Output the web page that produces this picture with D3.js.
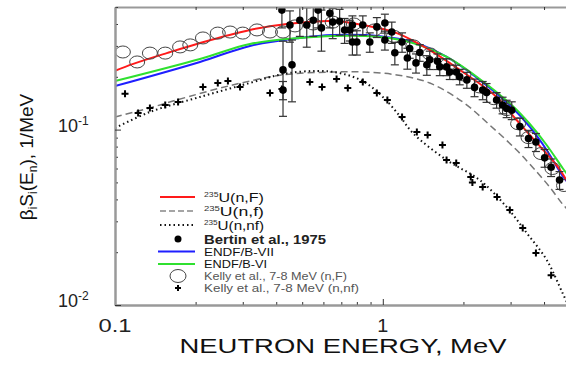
<!DOCTYPE html>
<html>
<head>
<meta charset="utf-8">
<script src="https://cdn.jsdelivr.net/npm/d3@7"></script>
<style>
  body { margin: 0; background: #fff; }
  svg { display: block; font-family: "Liberation Sans", Arial, sans-serif; }
</style>
</head>
<body>
<svg id="chart" width="566" height="365"></svg>
<script>
// ---- data (energy in MeV, spectrum in 1/MeV) ----
const totalE   = [0.1, 0.117, 0.156, 0.208, 0.319, 0.438, 0.651, 0.842, 1.128, 1.497, 1.99, 2.66, 3.16, 3.76, 4.46, 5.0];
const totalF   = [0.2165, 0.237, 0.273, 0.312, 0.37, 0.40, 0.416, 0.395, 0.355, 0.284, 0.213, 0.1535, 0.1134, 0.084, 0.0625, 0.0477];

const endfE    = [0.1, 0.2076, 0.319, 0.49, 0.651, 0.975, 1.294, 1.733, 2.30, 3.055, 3.54, 4.09, 4.69, 5.0];
const endf7    = [0.177, 0.243, 0.300, 0.333, 0.346, 0.341, 0.316, 0.2594, 0.192, 0.1328, 0.1035, 0.0765, 0.0545, 0.0483];
const endf6    = [0.189, 0.2526, 0.3076, 0.333, 0.342, 0.337, 0.312, 0.2594, 0.1944, 0.1363, 0.1076, 0.0817, 0.0604, 0.053];

const firstE   = [0.1, 0.135, 0.17, 0.275, 0.424, 0.651, 0.842, 1.128, 1.497, 1.99, 2.506, 3.16, 3.76, 4.2, 4.69, 5.0];
const firstF   = [0.118, 0.133, 0.1475, 0.1796, 0.205, 0.213, 0.213, 0.205, 0.1844, 0.1437, 0.1062, 0.0765, 0.0573, 0.047, 0.0376, 0.034];

const nnfE     = [0.1, 0.135, 0.2076, 0.319, 0.424, 0.567, 0.691, 0.842, 1.0, 1.157, 1.294, 1.733, 2.30, 2.90, 3.45, 4.09, 4.69, 5.0];
const nnfF     = [0.102, 0.126, 0.1535, 0.1844, 0.2075, 0.216, 0.210, 0.189, 0.1535, 0.1195, 0.0956, 0.067, 0.0516, 0.0362, 0.0257, 0.0181, 0.0117, 0.0095];

const bertinE  = [0.424, 0.424, 0.458, 0.42, 0.45, 0.49, 0.52, 0.55, 0.573, 0.59, 0.634, 0.65, 0.69, 0.72, 0.753, 0.77, 0.77, 0.80,
                  0.842, 0.894, 0.95, 1.018, 1.018, 1.08, 1.109, 1.18, 1.235, 1.26, 1.33, 1.374, 1.46, 1.497, 1.6, 1.632,
                  1.73, 1.778, 1.88, 1.937, 2.06, 2.2, 2.36, 2.44, 2.66, 2.8, 2.9, 3.03, 3.25, 3.5, 3.73, 4.02, 4.25, 4.57];
const bertinF  = [0.219, 0.168, 0.234, 0.48, 0.395, 0.42, 0.395, 0.42, 0.48, 0.38, 0.46, 0.41, 0.415, 0.37, 0.37, 0.395, 0.316, 0.316,
                  0.395, 0.316, 0.385, 0.324, 0.405, 0.36, 0.274, 0.316, 0.256, 0.29, 0.24, 0.275, 0.234, 0.25, 0.245, 0.228,
                  0.228, 0.213, 0.213, 0.2, 0.192, 0.174, 0.168, 0.163, 0.1475, 0.138, 0.132, 0.129, 0.104, 0.089, 0.085, 0.069, 0.061, 0.0516];
const bertinErr = [0.10, 0.02, 0.09, 0.1, 0.08, 0.08, 0.1, 0.08, 0.1, 0.1, 0.08, 0.08, 0.07, 0.06, 0.05, 0.05, 0.05, 0.05,
                   0.05, 0.04, 0.05, 0.04, 0.05, 0.05, 0.04, 0.04, 0.035, 0.035, 0.03, 0.03, 0.03, 0.03, 0.025, 0.025,
                   0.025, 0.02, 0.02, 0.02, 0.02, 0.02, 0.02, 0.02, 0.015, 0.015, 0.015, 0.015, 0.012, 0.01, 0.01, 0.008, 0.007, 0.006];

const kellyFE  = [0.107, 0.121, 0.135, 0.154, 0.175, 0.191, 0.213, 0.242, 0.269, 0.30, 0.339, 0.379, 0.424, 0.47, 0.55, 0.65, 0.78, 0.93,
                  1.1, 1.3, 1.5, 1.75, 2.0, 2.3, 2.6, 2.9, 3.2, 3.5, 3.9, 4.3, 4.75];
const kellyF   = [0.277, 0.243, 0.273, 0.273, 0.296, 0.304, 0.333, 0.355, 0.36, 0.355, 0.37, 0.36, 0.36, 0.39, 0.40, 0.41, 0.40, 0.37,
                  0.34, 0.30, 0.27, 0.235, 0.205, 0.175, 0.15, 0.13, 0.108, 0.09, 0.073, 0.06, 0.048];

const kellyNE  = [0.109, 0.122, 0.135, 0.154, 0.172, 0.213, 0.242, 0.264, 0.293, 0.379, 0.42, 0.534, 0.593, 0.672, 0.74, 0.842,
                  0.95, 1.04, 1.18, 1.34, 1.47, 1.67, 1.73, 1.88, 2.13, 2.16, 2.36, 2.67, 2.98, 3.33, 3.73, 4.25];
const kellyN   = [0.160, 0.1243, 0.133, 0.138, 0.1437, 0.175, 0.1844, 0.189, 0.175, 0.1617, 0.1704, 0.1868, 0.175, 0.1944, 0.1727, 0.1868,
                  0.1617, 0.1475, 0.118, 0.0969, 0.0932, 0.0817, 0.0671, 0.0645, 0.0537, 0.05, 0.047, 0.0413, 0.0348, 0.0275, 0.0198, 0.0148];

const xMajor = [0.1, 1];
const xMinor = [0.2, 0.3, 0.4, 0.5, 0.6, 0.7, 0.8, 0.9, 2, 3, 4, 5];
const xTickLabels = ["0.1", "1"];
const yMajor = [0.01, 0.1];
const yMinor = [0.02, 0.03, 0.04, 0.05, 0.06, 0.07, 0.08, 0.09, 0.2, 0.3, 0.4, 0.5];
const yTickExp = ["-2", "-1"];

// ---- layout ----
const svg = d3.select("#chart");
const L = 115, R = 570, T = 7, B = 305;

const x = d3.scaleLog().domain([0.1, 5]).range([L, R]);
const y = d3.scaleLog().domain([0.01, 0.5]).range([B, T]);

svg.append("clipPath").attr("id", "plotclip")
  .append("rect").attr("x", L).attr("y", T).attr("width", R - L).attr("height", B - T);

const plot = svg.append("g").attr("clip-path", "url(#plotclip)");

const line = d3.line()
  .x(d => x(d[0]))
  .y(d => y(d[1]))
  .curve(d3.curveCatmullRom.alpha(0.5));

const zip = (a, b) => a.map((v, i) => [v, b[i]]);

// curves
plot.append("path").datum(zip(firstE, firstF))
  .attr("d", line).attr("fill", "none")
  .attr("stroke", "#777").attr("stroke-width", 1.5).attr("stroke-dasharray", "7,4");

plot.append("path").datum(zip(nnfE, nnfF))
  .attr("d", line).attr("fill", "none")
  .attr("stroke", "#111").attr("stroke-width", 2).attr("stroke-dasharray", "1.5,3");

plot.append("path").datum(zip(endfE, endf7))
  .attr("d", line).attr("fill", "none").attr("stroke", "#1f1fff").attr("stroke-width", 2);

plot.append("path").datum(zip(endfE, endf6))
  .attr("d", line).attr("fill", "none").attr("stroke", "#2fe02f").attr("stroke-width", 2);

plot.append("path").datum(zip(totalE, totalF))
  .attr("d", line).attr("fill", "none").attr("stroke", "#ff1a1a").attr("stroke-width", 2);

// Kelly (n,F) open circles
plot.selectAll(".kf").data(zip(kellyFE, kellyF)).enter()
  .append("ellipse")
  .attr("cx", d => x(d[0])).attr("cy", d => y(d[1]))
  .attr("rx", 7.5).attr("ry", 6)
  .attr("fill", "none").attr("stroke", "#444").attr("stroke-width", 1);

// Kelly (n,nf) crosses
plot.selectAll(".kn").data(zip(kellyNE, kellyN)).enter()
  .append("path")
  .attr("transform", d => `translate(${x(d[0])},${y(d[1])})`)
  .attr("d", "M-3.5,0H3.5M0,-3.5V3.5")
  .attr("stroke", "#000").attr("stroke-width", 2);

// Bertin points with error bars
const bertin = bertinE.map((e, i) => ({ e: e, v: bertinF[i], err: bertinErr[i] }));
const lowEnd = d => y(Math.max(d.v - d.err, 0.011));
const eb = plot.selectAll(".eb").data(bertin).enter().append("g")
  .attr("stroke", "#333").attr("stroke-width", 1.2);
eb.append("line")
  .attr("x1", d => x(d.e)).attr("x2", d => x(d.e))
  .attr("y1", d => y(d.v + d.err)).attr("y2", lowEnd);
eb.append("line")
  .attr("x1", d => x(d.e) - 4).attr("x2", d => x(d.e) + 4)
  .attr("y1", d => y(d.v + d.err)).attr("y2", d => y(d.v + d.err));
eb.append("line")
  .attr("x1", d => x(d.e) - 4).attr("x2", d => x(d.e) + 4)
  .attr("y1", lowEnd).attr("y2", lowEnd);
plot.selectAll(".bd").data(bertin).enter()
  .append("circle")
  .attr("cx", d => x(d.e)).attr("cy", d => y(d.v)).attr("r", 3.8)
  .attr("fill", "#000");

// ---- axes ----
function styleAxis(g) {
  g.select(".domain").attr("stroke", "#999").attr("stroke-width", 2);
  g.selectAll(".tick line").attr("stroke", "#333").attr("stroke-width", 1);
}
svg.append("g").attr("transform", `translate(0,${B})`)
  .call(d3.axisBottom(x).tickValues(xMinor).tickSize(-3).tickSizeOuter(0).tickFormat(""))
  .call(styleAxis);
svg.append("g").attr("transform", `translate(0,${B})`)
  .call(d3.axisBottom(x).tickValues(xMajor).tickSize(-6).tickSizeOuter(0).tickFormat(""))
  .call(styleAxis);
svg.append("g").attr("transform", `translate(0,${T})`)
  .call(d3.axisTop(x).tickValues(xMinor.concat(xMajor)).tickSize(-3).tickSizeOuter(0).tickFormat(""))
  .call(styleAxis);
svg.append("g").attr("transform", `translate(${L},0)`)
  .call(d3.axisLeft(y).tickValues(yMinor).tickSize(-3).tickSizeOuter(0).tickFormat(""))
  .call(styleAxis);
svg.append("g").attr("transform", `translate(${L},0)`)
  .call(d3.axisLeft(y).tickValues(yMajor).tickSize(-6).tickSizeOuter(0).tickFormat(""))
  .call(styleAxis);

// x tick labels
svg.selectAll(".xl").data(xMajor).enter().append("text")
  .attr("x", d => x(d)).attr("y", 332)
  .attr("text-anchor", "middle").attr("font-size", 19).attr("fill", "#222")
  .attr("textLength", (d, i) => xTickLabels[i].length > 1 ? 33 : 11)
  .attr("lengthAdjust", "spacingAndGlyphs")
  .text((d, i) => xTickLabels[i]);

// y tick labels 10^n
const yl = svg.selectAll(".yl").data(yMajor).enter().append("text")
  .attr("x", 58).attr("y", d => y(d) + 2)
  .attr("font-size", 18).attr("fill", "#222");
yl.append("tspan").text("10");
yl.append("tspan").attr("font-size", 12).attr("dy", -7).text((d, i) => yTickExp[i]);

// axis titles
svg.append("text")
  .attr("x", 343).attr("y", 353).attr("text-anchor", "middle")
  .attr("font-size", 21).attr("fill", "#111")
  .attr("textLength", 327).attr("lengthAdjust", "spacingAndGlyphs")
  .text("NEUTRON ENERGY, MeV");

const yt = svg.append("text")
  .attr("transform", "translate(33,157) rotate(-90)")
  .attr("text-anchor", "middle").attr("font-size", 19).attr("fill", "#111");
yt.append("tspan").text("β");
yt.append("tspan").attr("font-size", 12).attr("dy", 4).text("i");
yt.append("tspan").attr("dy", -4).text("S");
yt.append("tspan").attr("font-size", 12).attr("dy", 4).text("i");
yt.append("tspan").attr("dy", -4).text("(E");
yt.append("tspan").attr("font-size", 12).attr("dy", 4).text("n");
yt.append("tspan").attr("dy", -4).text("), 1/MeV");

// ---- legend ----
const legendRows = [197, 211, 225, 239, 251.5, 264, 276, 288];
const lg = svg.append("g");
const lx1 = 160, lx2 = 195, mx = 178, tx = 204;

function isoLabel(row, text) {
  const t = lg.append("text").attr("x", tx).attr("y", legendRows[row] + 5)
    .attr("font-size", 13).attr("fill", "#111")
    .attr("textLength", 60).attr("lengthAdjust", "spacingAndGlyphs");
  t.append("tspan").attr("font-size", 7).attr("dy", -5).attr("fill", "#333").text("235");
  t.append("tspan").attr("dy", 5).text(text);
}

lg.append("line").attr("x1", lx1).attr("x2", lx2).attr("y1", legendRows[0]).attr("y2", legendRows[0])
  .attr("stroke", "#ff1a1a").attr("stroke-width", 2);
isoLabel(0, "U(n,F)");
lg.append("line").attr("x1", lx1).attr("x2", lx2).attr("y1", legendRows[1]).attr("y2", legendRows[1])
  .attr("stroke", "#888").attr("stroke-width", 1.5).attr("stroke-dasharray", "6,3");
isoLabel(1, "U(n,f)");
lg.append("line").attr("x1", lx1).attr("x2", lx2).attr("y1", legendRows[2]).attr("y2", legendRows[2])
  .attr("stroke", "#111").attr("stroke-width", 2).attr("stroke-dasharray", "1.5,3");
isoLabel(2, "U(n,nf)");

lg.append("circle").attr("cx", mx).attr("cy", legendRows[3]).attr("r", 3.5).attr("fill", "#000");
lg.append("text").attr("x", tx).attr("y", legendRows[3] + 4.5)
  .attr("font-size", 12).attr("font-weight", "bold").attr("fill", "#222")
  .attr("textLength", 122).attr("lengthAdjust", "spacingAndGlyphs")
  .text("Bertin et al., 1975");

lg.append("line").attr("x1", lx1 - 2).attr("x2", lx2).attr("y1", legendRows[4]).attr("y2", legendRows[4])
  .attr("stroke", "#1f1fff").attr("stroke-width", 2);
lg.append("text").attr("x", tx).attr("y", legendRows[4] + 4)
  .attr("font-size", 11).attr("fill", "#111")
  .attr("textLength", 70).attr("lengthAdjust", "spacingAndGlyphs")
  .text("ENDF/B-VII");

lg.append("line").attr("x1", lx1 - 2).attr("x2", lx2).attr("y1", legendRows[5]).attr("y2", legendRows[5])
  .attr("stroke", "#2fe02f").attr("stroke-width", 2);
lg.append("text").attr("x", tx).attr("y", legendRows[5] + 4)
  .attr("font-size", 11).attr("fill", "#111")
  .attr("textLength", 63).attr("lengthAdjust", "spacingAndGlyphs")
  .text("ENDF/B-VI");

lg.append("ellipse").attr("cx", mx).attr("cy", legendRows[6]).attr("rx", 8).attr("ry", 6.5)
  .attr("fill", "none").attr("stroke", "#444").attr("stroke-width", 1);
lg.append("text").attr("x", tx).attr("y", legendRows[6] + 4)
  .attr("font-size", 10.5).attr("fill", "#555")
  .attr("textLength", 143).attr("lengthAdjust", "spacingAndGlyphs")
  .text("Kelly et al., 7-8 MeV (n,F)");

lg.append("path").attr("transform", `translate(${mx},${legendRows[7]})`)
  .attr("d", "M-3,0H3M0,-3V3").attr("stroke", "#000").attr("stroke-width", 2);
lg.append("text").attr("x", tx).attr("y", legendRows[7] + 4)
  .attr("font-size", 10.5).attr("fill", "#555")
  .attr("textLength", 155).attr("lengthAdjust", "spacingAndGlyphs")
  .text("Kelly et al., 7-8 MeV (n,nf)");
</script>
</body>
</html>
